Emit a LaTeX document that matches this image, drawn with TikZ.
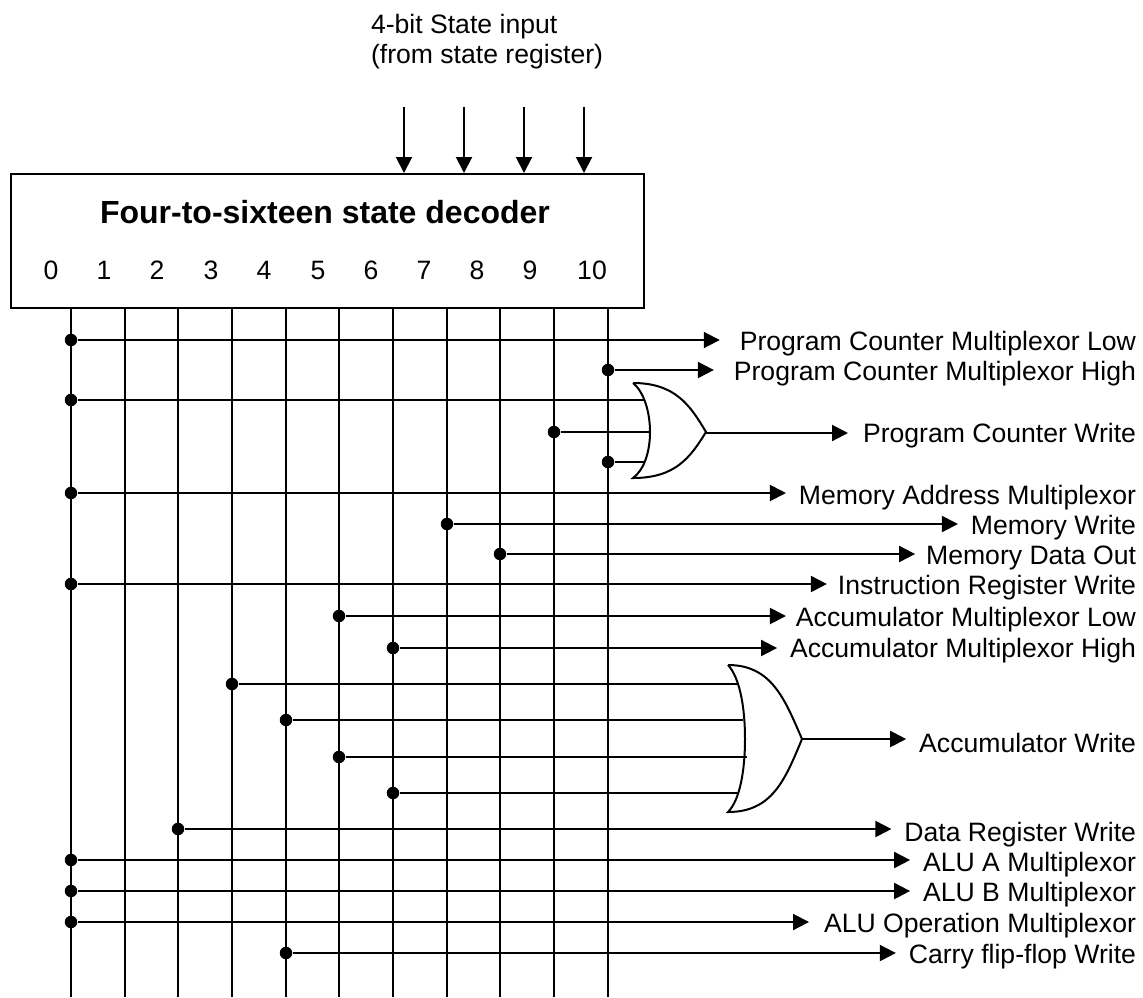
\documentclass[tikz,border=0pt]{standalone}
\usepackage{fontspec}
\setmainfont{Liberation Sans}
\usetikzlibrary{arrows.meta}

\begin{document}
\begin{tikzpicture}[x=1pt, y=-1pt, line width=2pt, >={Triangle[length=16pt, width=16pt]},
				    dot/.style={circle, fill=black, draw=none, inner sep=0pt, minimum size=12.5pt},
				    signal/.style={anchor=east, inner xsep=12pt, inner ysep=0pt, font=\fontsize{26.6}{26.6}\selectfont},
				    num/.style={inner sep=0pt, font=\fontsize{26.6}{26.6}\selectfont},
				    gate/.style={line width=2pt, fill=white}]
	\useasboundingbox (0, 0) rectangle (1143, 997);

	\node[inner sep=0pt, anchor=north west, align=left, font=\fontsize{26.6}{30}\selectfont] (inlabel) at (370, 13) {4-bit State input\\(from state register)};
	\node[draw, minimum width=633pt, minimum height=134pt, inner sep=0pt] (decoder) at (327.5, 241) {};
	\node[inner sep=0pt, font=\fontsize{32}{32}\selectfont\bfseries] (title) at (325, 212) {Four-to-sixteen state decoder};

	\node[num] (n0) at (51, 270) {0};
	\node[num] (n1) at (104, 270) {1};
	\node[num] (n2) at (157, 270) {2};
	\node[num] (n3) at (211, 270) {3};
	\node[num] (n4) at (264, 270) {4};
	\node[num] (n5) at (318, 270) {5};
	\node[num] (n6) at (371, 270) {6};
	\node[num] (n7) at (424, 270) {7};
	\node[num] (n8) at (477, 270) {8};
	\node[num] (n9) at (530, 270) {9};
	\node[num] (n10) at (592, 270) {10};

	\coordinate (i1) at (404, 107);
	\coordinate (i2) at (464, 107);
	\coordinate (i3) at (524, 107);
	\coordinate (i4) at (584, 107);
	\draw[->] (i1) -- (i1 |- decoder.north);
	\draw[->] (i2) -- (i2 |- decoder.north);
	\draw[->] (i3) -- (i3 |- decoder.north);
	\draw[->] (i4) -- (i4 |- decoder.north);

	\coordinate (c0) at (71, 997);
	\coordinate (c1) at (125, 997);
	\coordinate (c2) at (178, 997);
	\coordinate (c3) at (232, 997);
	\coordinate (c4) at (286, 997);
	\coordinate (c5) at (339, 997);
	\coordinate (c6) at (393, 997);
	\coordinate (c7) at (447, 997);
	\coordinate (c8) at (500, 997);
	\coordinate (c9) at (554, 997);
	\coordinate (c10) at (608, 997);
	\draw (c0 |- decoder.south) -- (c0);
	\draw (c1 |- decoder.south) -- (c1);
	\draw (c2 |- decoder.south) -- (c2);
	\draw (c3 |- decoder.south) -- (c3);
	\draw (c4 |- decoder.south) -- (c4);
	\draw (c5 |- decoder.south) -- (c5);
	\draw (c6 |- decoder.south) -- (c6);
	\draw (c7 |- decoder.south) -- (c7);
	\draw (c8 |- decoder.south) -- (c8);
	\draw (c9 |- decoder.south) -- (c9);
	\draw (c10 |- decoder.south) -- (c10);

	\node[signal] (pcl) at (1149, 344) {Program Counter Multiplexor Low};
	\node[signal] (pch) at (1149, 374) {Program Counter Multiplexor High};
	\node[signal] (pcw) at (1149, 436) {Program Counter Write};
	\node[signal] (mam) at (1149, 498) {Memory Address Multiplexor};
	\node[signal] (mw) at (1149, 528) {Memory Write};
	\node[signal] (mdo) at (1149, 558) {Memory Data Out};
	\node[signal] (irw) at (1149, 588) {Instruction Register Write};
	\node[signal] (aml) at (1149, 620) {Accumulator Multiplexor Low};
	\node[signal] (amh) at (1149, 651) {Accumulator Multiplexor High};
	\node[signal] (acw) at (1149, 743) {Accumulator Write};
	\node[signal] (drw) at (1149, 835) {Data Register Write};
	\node[signal] (ama) at (1149, 865) {ALU A Multiplexor};
	\node[signal] (amb) at (1149, 895) {ALU B Multiplexor};
	\node[signal] (aop) at (1149, 926) {ALU Operation Multiplexor};
	\node[signal] (cfw) at (1149, 957) {Carry flip-flop Write};

	\node[dot] (d1) at (71, 340) {};
	\node[dot] (d2) at (608, 370) {};
	\node[dot] (d3) at (71, 400) {};
	\node[dot] (d4) at (554, 432) {};
	\node[dot] (d5) at (608, 462) {};
	\node[dot] (d6) at (71, 493) {};
	\node[dot] (d7) at (447, 524) {};
	\node[dot] (d8) at (500, 554) {};
	\node[dot] (d9) at (71, 584) {};
	\node[dot] (d10) at (339, 616) {};
	\node[dot] (d11) at (393, 648) {};
	\node[dot] (d12) at (232, 684) {};
	\node[dot] (d13) at (286, 720) {};
	\node[dot] (d14) at (339, 757) {};
	\node[dot] (d15) at (393, 793) {};
	\node[dot] (d16) at (178, 829) {};
	\node[dot] (d17) at (71, 860) {};
	\node[dot] (d18) at (71, 891) {};
	\node[dot] (d19) at (71, 922) {};
	\node[dot] (d20) at (286, 953) {};

	\draw[gate] (633, 383) .. controls (675, 383) and (690, 405) .. (706, 432)
		.. controls (690, 458) and (675, 478) .. (633, 478)
		.. controls (644, 470) and (650, 452) .. (650, 432)
		.. controls (650, 412) and (644, 392) .. (633, 383);
	\coordinate (g1) at (706, 433);
	\coordinate (g1a) at (645, 400);
	\coordinate (g1b) at (650, 432);
	\coordinate (g1c) at (644, 462);

	\draw[gate] (728, 665) .. controls (772, 665) and (785, 700) .. (802, 739)
		.. controls (785, 780) and (772, 812) .. (728, 812)
		.. controls (740, 800) and (745, 770) .. (745, 739)
		.. controls (745, 708) and (740, 678) .. (728, 665);
	\coordinate (g2) at (802, 739);
	\coordinate (g2a) at (738, 684);
	\coordinate (g2b) at (743, 720);
	\coordinate (g2c) at (747, 757);
	\coordinate (g2d) at (738, 793);

	\draw[->, shorten >=7pt] (d1) -- (d1 -| pcl.west);
	\draw[->, shorten >=7pt] (d2) -- (d2 -| pch.west);
	\draw (d3) -- (g1a);
	\draw (d4) -- (g1b);
	\draw (d5) -- (g1c);
	\draw[->, shorten >=2pt] (g1) -- (g1 -| pcw.west);
	\draw[->] (d6) -- (d6 -| mam.west);
	\draw[->] (d7) -- (d7 -| mw.west);
	\draw[->, shorten >=-2pt] (d8) -- (d8 -| mdo.west);
	\draw[->, shorten >=-2pt] (d9) -- (d9 -| irw.west);
	\draw[->, shorten >=-3pt] (d10) -- (d10 -| aml.west);
	\draw[->] (d11) -- (d11 -| amh.west);
	\draw (d12) -- (g2a);
	\draw (d13) -- (g2b);
	\draw (d14) -- (g2c);
	\draw (d15) -- (g2d);
	\draw[->] (g2) -- (g2 -| acw.west);
	\draw[->] (d16) -- (d16 -| drw.west);
	\draw[->] (d17) -- (d17 -| ama.west);
	\draw[->] (d18) -- (d18 -| amb.west);
	\draw[->, shorten >=2pt] (d19) -- (d19 -| aop.west);
	\draw[->] (d20) -- (d20 -| cfw.west);
\end{tikzpicture}
\end{document}
